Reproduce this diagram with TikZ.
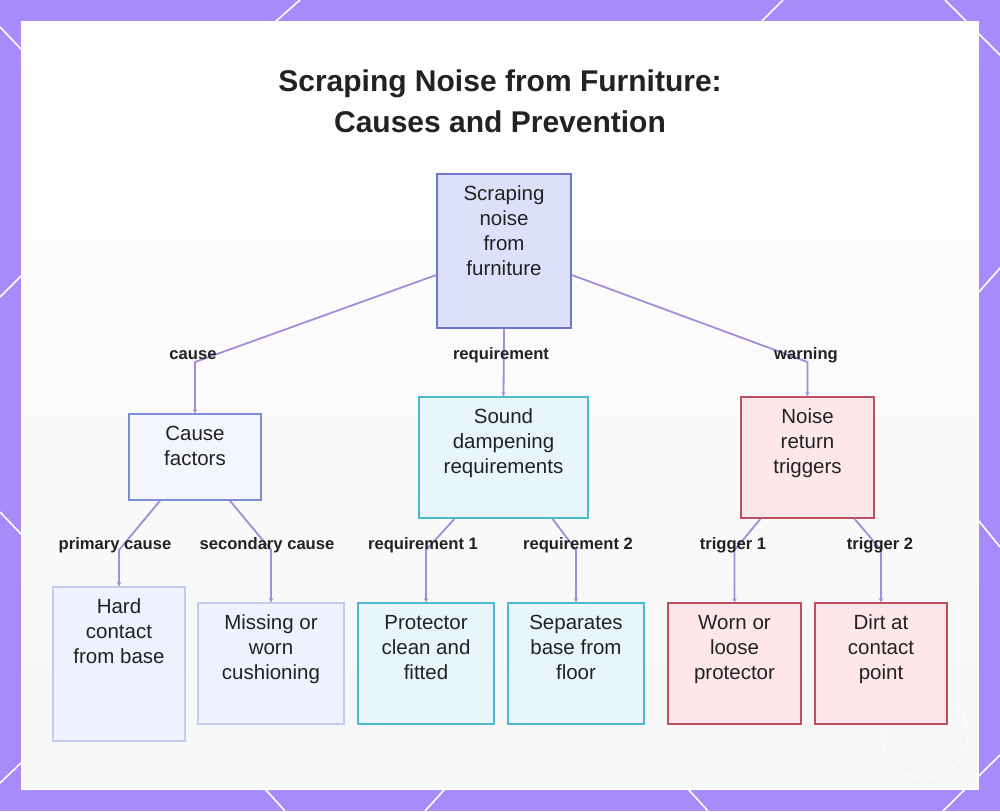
\documentclass[tikz,border=0pt]{standalone}
\usepackage{fontspec}
\setmainfont{Liberation Sans}
\usetikzlibrary{arrows.meta}
\definecolor{bordc}{HTML}{A78BFA}
\definecolor{edgec}{HTML}{A68BDC}
\definecolor{txtc}{HTML}{222222}
\definecolor{rootf}{HTML}{DDE0FB}
\definecolor{rootd}{HTML}{6E78C8}
\definecolor{cff}{HTML}{F4F6FE}
\definecolor{cfd}{HTML}{7C8CD6}
\definecolor{clf}{HTML}{EEF1FE}
\definecolor{cld}{HTML}{C5CBEF}
\definecolor{cyf}{HTML}{E8F6FC}
\definecolor{cyd}{HTML}{4DB9D1}
\definecolor{pkf}{HTML}{FDE7EB}
\definecolor{pkd}{HTML}{BF4E5E}
\newcommand\dbox[7]{%
  \node[#6, minimum width={#4-#2}, minimum height={#5-#3}] (#1) at ({(#2+#4)/2},{(#3+#5)/2}) {};
  \node[txt, anchor=north] (#1t) at ([yshift=-12.5pt]#1.north) {#7};
}
\begin{document}
\begin{tikzpicture}[x=1pt,y=-1pt,
  boxbase/.style={draw, rectangle, inner sep=0pt, line width=1.6pt},
  rootbox/.style={boxbase, fill=rootf, draw=rootd},
  cfbox/.style={boxbase, fill=cff, draw=cfd},
  clbox/.style={boxbase, fill=clf, draw=cld},
  cybox/.style={boxbase, fill=cyf, draw=cyd},
  pkbox/.style={boxbase, fill=pkf, draw=pkd},
  txt/.style={inner sep=0pt, align=center, text=txtc, font=\fontsize{20.5}{25}\selectfont},
  lab/.style={inner sep=0pt, text=txtc, font=\bfseries\fontsize{16.6}{18}\selectfont},
  titl/.style={inner sep=0pt, text=txtc, font=\bfseries\fontsize{30}{34}\selectfont},
  edge/.style={draw=edgec, line width=1.8pt, -{Stealth[length=4pt,width=4.5pt]}},
  deco/.style={draw=white, line width=1.6pt}
]
\useasboundingbox (0,0) rectangle (1000,811);
\fill[bordc] (0,0) rectangle (1000,811);
% decorative white lines
\draw[deco] (0,27) -- (22,50);
\draw[deco] (275,22) -- (300,0);
\draw[deco] (761,22) -- (783,0);
\draw[deco] (945,0) -- (1000,55);
\draw[deco] (0,297) -- (22,275);
\draw[deco] (0,512) -- (22,535);
\draw[deco] (978,293) -- (1000,268);
\draw[deco] (978,520) -- (1000,547);
\draw[deco] (0,783) -- (22,762);
\draw[deco] (265,789) -- (285,811);
\draw[deco] (445,789) -- (425,811);
\draw[deco] (688,789) -- (708,811);
\draw[deco] (943,811) -- (1000,755);
% panel
\shade[top color=white, bottom color=white!93!gray] (22,22) rectangle (978,789);
\draw[white, line width=1.2pt] (22,22) rectangle (978,789);
\draw[white, line width=1pt, opacity=0.85] (925,735) circle [radius=43pt];
% title
\node[titl] (t1) at (500,84) {Scraping Noise from Furniture:};
\node[titl] (t2) at (500,122) {Causes and Prevention};
% boxes
\dbox{root}{437}{174}{571}{328}{rootbox}{Scraping\\noise\\from\\furniture}
\dbox{cf}{129}{414}{261}{500}{cfbox}{Cause\\factors}
\dbox{sd}{419}{397}{588}{518}{cybox}{Sound\\dampening\\requirements}
\dbox{nr}{741}{397}{874}{518}{pkbox}{Noise\\return\\triggers}
\dbox{hc}{53}{587}{185}{741}{clbox}{Hard\\contact\\from base}
\dbox{mw}{198}{603}{344}{724}{clbox}{Missing or\\worn\\cushioning}
\dbox{pc}{358}{603}{494}{724}{cybox}{Protector\\clean and\\fitted}
\dbox{sp}{508}{603}{644}{724}{cybox}{Separates\\base from\\floor}
\dbox{wl}{668}{603}{801}{724}{pkbox}{Worn or\\loose\\protector}
\dbox{dc}{815}{603}{947}{724}{pkbox}{Dirt at\\contact\\point}
% bends
\coordinate (b1) at (195,362);
\coordinate (b3) at (807.5,362);
\coordinate (b4) at (119,550);
\coordinate (b5) at (271,550);
\coordinate (b6) at (426,550);
\coordinate (b7) at (576,550);
\coordinate (b8) at (734.5,550);
\coordinate (b9) at (881,550);
% edges
\draw[edge] ([yshift=-24pt]root.west) -- (b1) -- (cf.north);
\draw[edge] (root.south) -- (sd.north);
\draw[edge] ([yshift=-24pt]root.east) -- (b3) -- (nr.north);
\draw[edge] ([xshift=-35pt]cf.south) -- (b4) -- (hc.north);
\draw[edge] ([xshift=35pt]cf.south) -- (b5) -- (mw.north);
\draw[edge] ([xshift=-49pt]sd.south) -- (b6) -- (pc.north);
\draw[edge] ([xshift=49pt]sd.south) -- (b7) -- (sp.north);
\draw[edge] ([xshift=-47pt]nr.south) -- (b8) -- (wl.north);
\draw[edge] ([xshift=47pt]nr.south) -- (b9) -- (dc.north);
% labels
\node[lab] (l1) at (193,355) {cause};
\node[lab] (l2) at (501,355) {requirement};
\node[lab] (l3) at (806,355) {warning};
\node[lab] (l4) at (115,545) {primary cause};
\node[lab] (l5) at (267,545) {secondary cause};
\node[lab] (l6) at (423,545) {requirement 1};
\node[lab] (l7) at (578,545) {requirement 2};
\node[lab] (l8) at (733,545) {trigger 1};
\node[lab] (l9) at (880,545) {trigger 2};
\end{tikzpicture}
\end{document}
